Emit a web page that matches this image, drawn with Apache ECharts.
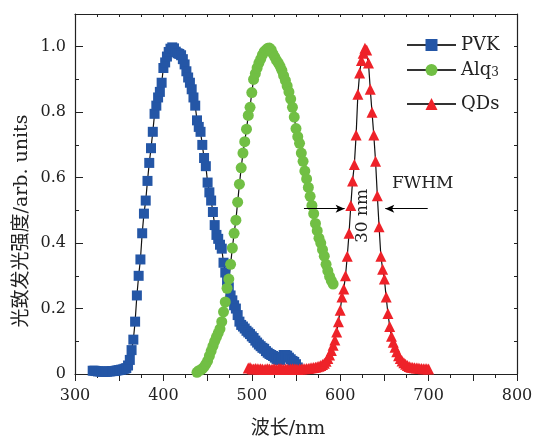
<!DOCTYPE html>
<html><head><meta charset="utf-8">
<script src="https://cdn.jsdelivr.net/npm/echarts@6/dist/echarts.min.js"></script>
<style>html,body{margin:0;padding:0;background:#fff}#c{width:533px;height:437px}</style>
</head><body><div id="c"></div><script>
// ---- data ----
var pvkWl = [320,322,324,326,328,330,332,334,336,338,340,342,344,346,348,350,352,354,356,358,
  360,362,364,366,368,370,372,374,376,378,380,382,384,386,388,390,392,394,396,398,
  400,402,404,406,408,410,412,414,416,418,420,422,424,426,428,430,432,434,436,438,
  440,442,444,446,448,450,452,454,456,458,460,462,464,466,468,470,472,474,476,478,
  480,482,484,486,488,490,492,494,496,498,500,502,504,506,508,510,512,514,516,518,
  520,522,524,526,528,530,532,534,536,538,540,542,544,546,548,550,552];
var pvkI = [0.010,0.010,0.009,0.008,0.008,0.007,0.007,0.007,0.007,0.008,0.008,0.009,0.009,0.010,0.011,0.012,0.013,0.014,0.016,0.018,
  0.026,0.043,0.073,0.105,0.160,0.240,0.300,0.350,0.430,0.490,0.530,0.590,0.645,0.690,0.740,0.795,0.820,0.845,0.862,0.890,
  0.935,0.952,0.970,0.984,0.994,0.998,0.995,0.985,0.980,0.978,0.974,0.962,0.946,0.925,0.906,0.890,0.870,0.845,0.820,0.775,
  0.755,0.740,0.700,0.660,0.635,0.585,0.555,0.530,0.495,0.455,0.425,0.413,0.395,0.383,0.340,0.310,0.285,0.265,0.240,0.225,
  0.210,0.200,0.180,0.160,0.150,0.145,0.139,0.132,0.127,0.122,0.115,0.110,0.102,0.096,0.090,0.085,0.080,0.077,0.070,0.065,
  0.061,0.058,0.055,0.050,0.046,0.043,0.043,0.052,0.058,0.058,0.056,0.050,0.045,0.040,0.037,0.030,0.020];

var alqWl = [438,440,442,444,446,448,450,452,454,456,458,460,462,464,466,468,470,472,474,476,
  478,480,482,484,486,488,490,492,494,496,498,500,502,504,506,508,510,512,514,516,
  518,520,522,524,526,528,530,532,534,536,538,540,542,544,546,548,550,552,554,556,
  558,560,562,564,566,568,570,572,574,576,578,580,582,584,586,588,590,592];
var alqI = [0.005,0.010,0.012,0.016,0.022,0.030,0.040,0.055,0.070,0.085,0.100,0.113,0.125,0.138,0.160,0.190,0.220,0.262,0.290,0.335,
  0.385,0.430,0.470,0.525,0.580,0.630,0.675,0.710,0.748,0.790,0.815,0.860,0.900,0.918,0.935,0.950,0.962,0.975,0.985,0.990,
  0.995,0.996,0.990,0.978,0.968,0.958,0.950,0.940,0.928,0.912,0.897,0.880,0.862,0.840,0.815,0.785,0.750,0.725,0.705,0.675,
  0.650,0.620,0.596,0.570,0.543,0.515,0.490,0.460,0.438,0.415,0.400,0.380,0.360,0.335,0.315,0.298,0.285,0.275];

var qdWl = [496,498,500,502,504,506,508,510,512,514,516,518,520,522,524,526,528,530,532,534,
  536,538,540,542,544,546,548,550,552,554,556,558,560,562,564,566,568,570,572,574,
  576,578,580,582,584,586,588,590,592,594,596,598,600,602,604,606,608,610,612,614,
  616,618,620,622,624,626,628,630,632,634,636,638,640,642,644,646,648,650,652,654,
  656,658,660,662,664,666,668,670,672,674,676,678,680,682,684,686,688,690,692,694,
  696,698,700];
var qdI = [0.018,0.020,0.016,0.015,0.017,0.016,0.015,0.016,0.015,0.014,0.015,0.016,0.015,0.014,0.015,0.015,0.014,0.015,0.016,0.015,
  0.014,0.015,0.015,0.014,0.015,0.016,0.015,0.015,0.014,0.015,0.015,0.016,0.016,0.017,0.017,0.018,0.019,0.020,0.021,0.022,
  0.024,0.026,0.029,0.033,0.039,0.047,0.058,0.072,0.088,0.104,0.128,0.160,0.195,0.235,0.260,0.300,0.360,0.430,0.515,0.590,
  0.640,0.730,0.855,0.920,0.958,0.980,0.995,0.990,0.950,0.870,0.800,0.730,0.650,0.545,0.450,0.360,0.320,0.290,0.235,0.185,
  0.145,0.115,0.097,0.082,0.068,0.056,0.047,0.040,0.034,0.030,0.026,0.023,0.021,0.020,0.019,0.018,0.018,0.017,0.017,0.016,
  0.016,0.016,0.015];

var seriesNames = ['PVK', 'Alq3', 'QDs'];
// FWHM annotation arrows (wavelength from, to) at half maximum level
var fwhmLevel = 0.505;
var fwhmLeftArrow = [559, 605];
var fwhmRightArrow = [699, 651];

function pairs(w, v) { return w.map(function (x, i) { return [x, v[i]]; }); }

var SERIF = '"DejaVu Serif", "Noto Sans CJK SC", serif';
var AX = '#222';
var chart = echarts.init(document.getElementById('c'), null, {renderer: 'canvas'});

var legendBase = {
  orient: 'vertical', left: 401, itemWidth: 49, itemHeight: 15, selectedMode: false,
  lineStyle: {width: 2, color: '#333'},
  textStyle: {fontFamily: SERIF, fontSize: 18, color: AX,
    rich: {s: {fontFamily: SERIF, fontSize: 12, color: AX, verticalAlign: 'bottom', lineHeight: 16}}},
  formatter: function (n) { return n === 'Alq3' ? 'Alq{s|3}' : n; }
};
function lg(name, top) { return Object.assign({}, legendBase, {data: [name], top: top}); }

chart.setOption({
  animation: false,
  backgroundColor: '#fff',
  grid: {left: 75, right: 16, top: 14, bottom: 63, containLabel: false, outerBoundsMode: 'none'},
  legend: [lg(seriesNames[0], 31), lg(seriesNames[1], 56), lg(seriesNames[2], 90)],
  xAxis: [{
    type: 'value', min: 300, max: 800, interval: 50, position: 'bottom',
    axisLine: {show: true, lineStyle: {color: AX, width: 1.2}},
    axisTick: {show: true, inside: false, length: 7, lineStyle: {color: AX, width: 1}},
    minorTick: {show: true, splitNumber: 2, length: 4, lineStyle: {color: AX, width: 1}},
    axisLabel: {margin: 14, fontFamily: SERIF, fontSize: 16, color: AX,
      formatter: function (v) { return v % 100 === 0 ? String(v) : ''; }},
    splitLine: {show: false}
  }, {
    type: 'value', min: 300, max: 800, interval: 25, position: 'top',
    axisLine: {show: true, onZero: false, lineStyle: {color: AX, width: 1.2}},
    axisTick: {show: true, inside: true, length: 3, lineStyle: {color: AX, width: 1}},
    axisLabel: {show: false}, splitLine: {show: false}
  }],
  yAxis: [{
    type: 'value', min: 0, max: 1.1, interval: 0.2, position: 'left',
    axisLine: {show: true, onZero: false, lineStyle: {color: AX, width: 1.2}},
    axisTick: {show: true, inside: true, length: 8, lineStyle: {color: AX, width: 1}},
    minorTick: {show: true, splitNumber: 2, length: 4, lineStyle: {color: AX, width: 1}},
    axisLabel: {margin: 9, fontFamily: SERIF, fontSize: 16, color: AX, showMaxLabel: false,
      formatter: function (v) { return v === 0 ? '0' : (v > 1.05 ? '' : v.toFixed(1)); }},
    splitLine: {show: false}
  }, {
    type: 'value', min: 0, max: 1.1, interval: 0.1, position: 'right',
    axisLine: {show: true, onZero: false, lineStyle: {color: AX, width: 1.2}},
    axisTick: {show: true, inside: true, length: 3, lineStyle: {color: AX, width: 1}},
    axisLabel: {show: false}, splitLine: {show: false}
  }],
  series: [{
    name: seriesNames[0], type: 'line', data: pairs(pvkWl, pvkI),
    symbol: 'rect', symbolSize: 10, showAllSymbol: true,
    lineStyle: {color: '#111', width: 1.2}, itemStyle: {color: '#2456A6'}
  }, {
    name: seriesNames[1], type: 'line', data: pairs(alqWl, alqI),
    symbol: 'circle', symbolSize: 11, showAllSymbol: true,
    lineStyle: {color: '#111', width: 1.2}, itemStyle: {color: '#71BF44'}
  }, {
    name: seriesNames[2], type: 'line', data: pairs(qdWl, qdI),
    symbol: 'triangle', symbolSize: 11, showAllSymbol: true,
    lineStyle: {color: '#111', width: 1.2}, itemStyle: {color: '#EE2229'},
    markLine: {
      silent: true, symbol: ['none', 'arrow'], symbolSize: [6, 9],
      lineStyle: {color: '#000', width: 1.2, type: 'solid'},
      label: {show: false},
      data: [
        [{coord: [fwhmLeftArrow[0], fwhmLevel]}, {coord: [fwhmLeftArrow[1], fwhmLevel]}],
        [{coord: [fwhmRightArrow[0], fwhmLevel]}, {coord: [fwhmRightArrow[1], fwhmLevel]}]
      ]
    }
  }],
  graphic: [
    {type: 'text', x: 288, y: 429, style: {text: '波长/nm', align: 'center', verticalAlign: 'middle', font: '19px ' + SERIF, fill: AX}},
    {type: 'text', x: 22, y: 221, rotation: Math.PI / 2, style: {text: '光致发光强度/arb. units', align: 'center', verticalAlign: 'middle', font: '19px ' + SERIF, fill: AX}},
    {type: 'text', x: 392, y: 184, style: {text: 'FWHM', align: 'left', verticalAlign: 'middle', font: '17px ' + SERIF, fill: AX}},
    {type: 'text', x: 363, y: 216, rotation: Math.PI / 2, style: {text: '30 nm', align: 'center', verticalAlign: 'middle', font: '17px ' + SERIF, fill: AX}}
  ]
});
</script></body></html>
